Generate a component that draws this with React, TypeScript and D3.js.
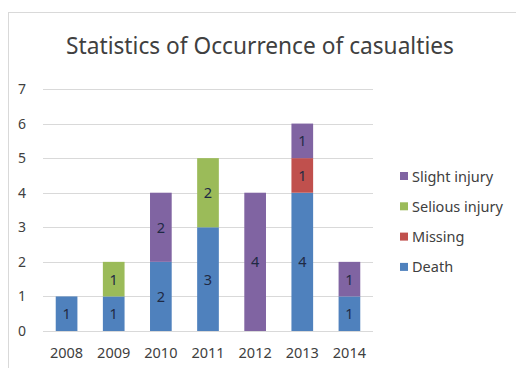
import React from "react";
import * as d3 from "d3";

const years = ["2008", "2009", "2010", "2011", "2012", "2013", "2014"];
const death = [1, 1, 2, 3, 0, 4, 1];
const missing = [0, 0, 0, 0, 0, 1, 0];
const seriousInjury = [0, 1, 0, 2, 0, 0, 0];
const slightInjury = [0, 0, 2, 0, 4, 1, 1];
const seriesNames = ["Death", "Missing", "Selious injury", "Slight injury"];
const seriesColors = ["#4f81bd", "#c0504d", "#9bbb59", "#8064a2"];
const yTicks = [0, 1, 2, 3, 4, 5, 6, 7];
const title = "Statistics of Occurrence of casualties";

const W = 516;
const H = 368;
const FONT = "'Noto Sans', 'DejaVu Sans', sans-serif";

export default function App() {
  const rows = years.map((y, i) => ({
    year: y,
    Death: death[i],
    Missing: missing[i],
    "Selious injury": seriousInjury[i],
    "Slight injury": slightInjury[i],
  }));
  const stack = d3.stack<any>().keys(seriesNames)(rows);

  const x = d3
    .scaleBand<string>()
    .domain(years)
    .range([43, 373])
    .paddingInner(0.54)
    .paddingOuter(0.27);
  const y = d3.scaleLinear().domain([0, 7]).range([331, 89]);

  const legendOrder = [...seriesNames].reverse();

  return (
    <svg
      width={W}
      height={H}
      style={{ position: "absolute", left: 0, top: 0, background: "#fff" }}
      fontFamily={FONT}
    >
      <rect x={8.5} y={12.5} width={W} height={H} fill="#fff" stroke="#d9d9d9" />
      <text x={260} y={54} textAnchor="middle" fontSize={22.7} fill="#404040">
        {title}
      </text>

      {yTicks.map((t) => (
        <g key={t}>
          <line
            x1={43}
            x2={373}
            y1={Math.round(y(t)) + 0.5}
            y2={Math.round(y(t)) + 0.5}
            stroke="#d9d9d9"
            strokeWidth={1}
          />
          <text x={18} y={y(t) + 5} fontSize={14} fill="#404040">
            {t}
          </text>
        </g>
      ))}

      {stack.map((s, si) => (
        <g key={s.key} fill={seriesColors[si]}>
          {s.map((d, i) =>
            d[1] - d[0] > 0 ? (
              <g key={i}>
                <rect
                  x={x(years[i])}
                  y={y(d[1])}
                  width={x.bandwidth()}
                  height={y(d[0]) - y(d[1])}
                />
                <text
                  x={(x(years[i]) as number) + x.bandwidth() / 2}
                  y={(y(d[0]) + y(d[1])) / 2 + 5.5}
                  textAnchor="middle"
                  fontSize={14.5}
                  fill="#1f2a44"
                >
                  {d[1] - d[0]}
                </text>
              </g>
            ) : null
          )}
        </g>
      ))}

      {years.map((yr) => (
        <text
          key={yr}
          x={(x(yr) as number) + x.bandwidth() / 2}
          y={357.5}
          textAnchor="middle"
          fontSize={14.5}
          fill="#404040"
        >
          {yr}
        </text>
      ))}

      {legendOrder.map((name, i) => {
        const ci = seriesNames.indexOf(name);
        const cy = 176 + i * 30.3;
        return (
          <g key={name}>
            <rect x={400} y={cy - 4} width={8} height={8} fill={seriesColors[ci]} />
            <text x={412} y={cy + 5.5} fontSize={14.5} fill="#404040">
              {name}
            </text>
          </g>
        );
      })}
    </svg>
  );
}
